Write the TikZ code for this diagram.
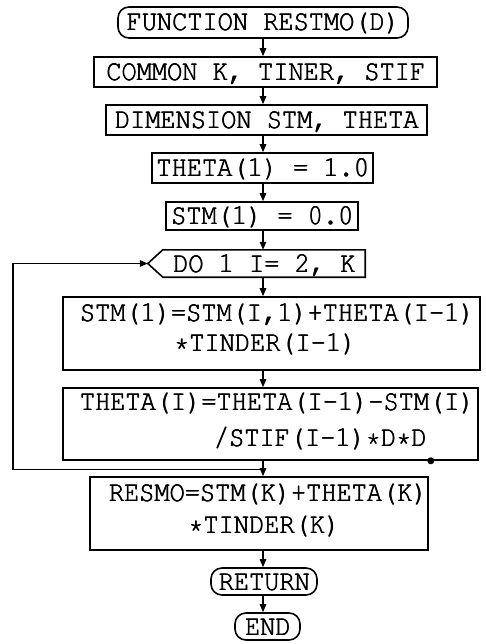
\documentclass[tikz,border=0pt]{standalone}
\usepackage[T1]{fontenc}
\usepackage{courier}
\usepackage{graphicx}
\newcommand\tallt[1]{\scalebox{1}[1.15]{\rlap{\hspace{0.7pt}#1}\rlap{\hspace{0.35pt}#1}#1}}
\usetikzlibrary{arrows.meta,calc}
\begin{document}
\begin{tikzpicture}[x=1pt,y=-1pt,
  every node/.style={font=\fontsize{25.3}{30}\selectfont\ttfamily, text height=17pt, text depth=0pt, inner sep=0pt},
  box/.style={draw, line width=1.6pt},
  term/.style={draw, line width=1.6pt, rounded corners=11pt},
  arr/.style={line width=1.3pt, -{Triangle[length=8pt,width=6.5pt]}},
  conn/.style={line width=1.3pt},
  dotmark/.style={circle, fill, minimum size=7pt, text height=0pt, inner sep=0pt}]
\useasboundingbox (0,0) rectangle (486,644);
\coordinate (X) at (263,0);
\node[term, minimum width=290pt, minimum height=31pt] (func) at (263,22.5) {\tallt{FUNCTION RESTMO(D)}};
\node[box, minimum width=343pt, minimum height=30pt] (common) at (265.5,72) {\tallt{COMMON K, TINER, STIF}};
\node[box, minimum width=321pt, minimum height=30pt] (dim) at (266.5,120) {\tallt{DIMENSION STM, THETA}};
\node[box, minimum width=221pt, minimum height=30pt] (th1) at (262.5,168) {\tallt{THETA(1) = 1.0}};
\node[box, minimum width=192pt, minimum height=28pt] (stm1) at (262,216) {\tallt{STM(1) = 0.0}};
\node[minimum width=202pt, minimum height=27pt] (do) at (264,263.5) {\tallt{DO 1 I= 2, K}};
\coordinate (dotip) at ($(do.west)+(-15,0)$);
\draw[box] (do.north west) -- (do.north east) -- (do.south east) -- (do.south west) -- (dotip) -- cycle;
\node[box, minimum width=417pt, minimum height=73pt] (stmI) at (271.5,333.5) {};
\node (s1) at (277,313) {\tallt{STM(1)=STM(I,1)+THETA(I-1)}};
\node (s2) at (265,343) {\tallt{*TINDER(I-1)}};
\node[box, minimum width=415pt, minimum height=72pt] (thI) at (270.5,424) {};
\node (t1) at (277,402) {\tallt{THETA(I)=THETA(I-1)-STM(I)}};
\node (t2) at (320,438) {\tallt{/STIF(I-1)*D*D}};
\node[box, minimum width=338pt, minimum height=73pt] (resmo) at (259,513.5) {};
\node (r1) at (268,493) {\tallt{RESMO=STM(K)+THETA(K)}};
\node (r2) at (264,525) {\tallt{*TINDER(K)}};
\node[term, minimum width=106pt, minimum height=27pt] (ret) at (264,581.5) {\tallt{RETURN}};
\node[term, minimum width=65pt, minimum height=27pt] (end) at (267.5,626.5) {\tallt{END}};
\node[dotmark] (dot) at ($(thI.south east)+(-48,0)$) {};
\draw[arr] (func.south -| X) -- (common.north -| X);
\draw[arr] (common.south -| X) -- (dim.north -| X);
\draw[arr] (dim.south -| X) -- (th1.north -| X);
\draw[arr] (th1.south -| X) -- (stm1.north -| X);
\draw[arr] (stm1.south -| X) -- (do.north -| X);
\draw[arr] (do.south -| X) -- (stmI.north -| X);
\draw[arr] (stmI.south -| X) -- (thI.north -| X);
\draw[arr] (thI.south -| X) -- (resmo.north -| X);
\draw[arr] (resmo.south -| X) -- (ret.north -| X);
\draw[arr] (ret.south -| X) -- (end.north -| X);
\coordinate (j) at ($(X |- thI.south)+(0,9)$);
\coordinate (lc) at ($(j)+(-250,0)$);
\draw[conn] (j) -- (lc);
\draw[arr] (lc) |- (dotip);
\end{tikzpicture}
\end{document}
